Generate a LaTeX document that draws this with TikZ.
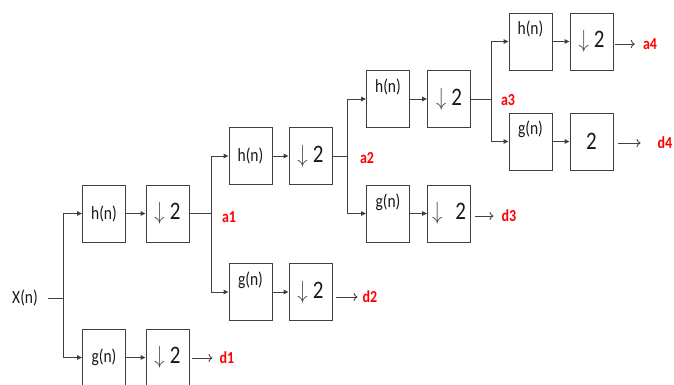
\documentclass[tikz,border=0pt]{standalone}
\usepackage{fontspec}
\usepackage{graphicx}
\setmainfont{Carlito}
\usetikzlibrary{arrows.meta}

\newcommand{\tall}[1]{\scalebox{1}[1.2]{#1}}
\newcommand{\dtwo}[1][5pt]{\tall{\fontsize{21}{23}\selectfont\textcolor{black!70}{$\downarrow$}\hspace{#1}2}}

\tikzset{
	blk/.style={draw=black!75, line width=0.9pt, minimum width=43pt, minimum height=57pt, inner sep=0pt, text=black!90, font=\fontsize{15.5}{17}\selectfont},
	upbox/.style={text height=11pt, text depth=24pt},
	lbl/.style={text=red, font=\fontsize{14}{16}\selectfont\bfseries, inner sep=1pt},
	wire/.style={draw=black!75, line width=0.9pt},
	feed/.style={wire, -{Triangle[length=5pt,width=4.5pt]}},
	outarr/.style={wire, -{To[length=4pt,width=8pt]}},
}

\begin{document}
\begin{tikzpicture}[x=1pt,y=1pt,yscale=-1,xscale=1]
	\useasboundingbox (0,0) rectangle (674,385);
	
	% Text Node
	\node [inner xsep=10pt, text=black!90, font=\fontsize{15.5}{17}\selectfont] (xn) at (25,298) {\tall{X(n)}};
	
	% stage 1
	\node [blk] (h1) at (104,213.5) {\tall{h(n)}};
	\node [blk] (dh1) at (167.5,213.5) {\dtwo};
	\node [blk] (g1) at (104,357.5) {\tall{g(n)}};
	\node [blk] (dg1) at (167.5,357.5) {\dtwo};
	% stage 2
	\node [blk] (h2) at (250.5,156) {\tall{h(n)}};
	\node [blk] (dh2) at (310.5,156) {\dtwo};
	\node [blk, upbox] (g2) at (250.5,292) {\tall{g(n)}};
	\node [blk] (dg2) at (310.5,292) {\dtwo};
	% stage 3
	\node [blk, upbox] (h3) at (388,99) {\tall{h(n)}};
	\node [blk] (dh3) at (449,99) {\dtwo};
	\node [blk, upbox] (g3) at (388,213.5) {\tall{g(n)}};
	\node [blk] (dg3) at (449,213.5) {\dtwo[13pt]};
	% stage 4
	\node [blk, upbox] (h4) at (530.5,41.5) {\tall{h(n)}};
	\node [blk] (dh4) at (591.5,41.5) {\dtwo};
	\node [blk, upbox] (g4) at (530.5,141.5) {\tall{g(n)}};
	\node [blk] (dg4) at (591.5,141.5) {\tall{\fontsize{21}{23}\selectfont 2}};
	
	% Text Node
	\node [lbl] (a1) at (229,217) {\tall{a1}};
	\node [lbl] (d1) at (227,358) {\tall{d1}};
	\node [lbl] (a2) at (367,158) {\tall{a2}};
	\node [lbl] (d2) at (370,297) {\tall{d2}};
	\node [lbl] (a3) at (508,100) {\tall{a3}};
	\node [lbl] (d3) at (509,216) {\tall{d3}};
	\node [lbl] (a4) at (650,44) {\tall{a4}};
	\node [lbl] (d4) at (665,143) {\tall{d4}};
	
	\coordinate (j1) at (63,298);
	\coordinate (j2) at (211,213.5);
	\coordinate (j3) at (347,156);
	\coordinate (j4) at (491,99);
	
	%Straight Lines
	\draw [wire] (xn) -- (j1);
	\draw [feed] (j1) |- (h1);
	\draw [feed] (j1) |- (g1);
	\draw [feed] (h1) -- (dh1);
	\draw [feed] (g1) -- (dg1);
	\draw [wire] (dh1) -- (j2);
	\draw [outarr, shorten <=3pt, shorten >=6pt] (dg1.east |- d1) -- (d1);
	
	\draw [feed] (j2) |- (h2);
	\draw [feed] (j2) |- (g2);
	\draw [feed] (h2) -- (dh2);
	\draw [feed] (g2) -- (dg2);
	\draw [wire] (dh2) -- (j3);
	\draw [outarr, shorten <=4pt, shorten >=4pt] (dg2.east |- d2) -- (d2);
	
	\draw [feed] (j3) |- (h3);
	\draw [feed] (j3) |- (g3);
	\draw [feed] (h3) -- (dh3);
	\draw [feed] (g3) -- (dg3);
	\draw [wire] (dh3) -- (j4);
	\draw [outarr, shorten <=4pt, shorten >=7pt] (dg3.east |- d3) -- (d3);
	
	\draw [feed] (j4) |- (h4);
	\draw [feed] (j4) |- (g4);
	\draw [feed] (h4) -- (dh4);
	\draw [feed] (g4) -- (dg4);
	\draw [outarr, shorten <=2pt, shorten >=7pt] (dh4.east |- a4) -- (a4);
	\draw [outarr, shorten <=5pt, shorten >=16pt] (dg4.east |- d4) -- (d4);
	
\end{tikzpicture}
\end{document}
